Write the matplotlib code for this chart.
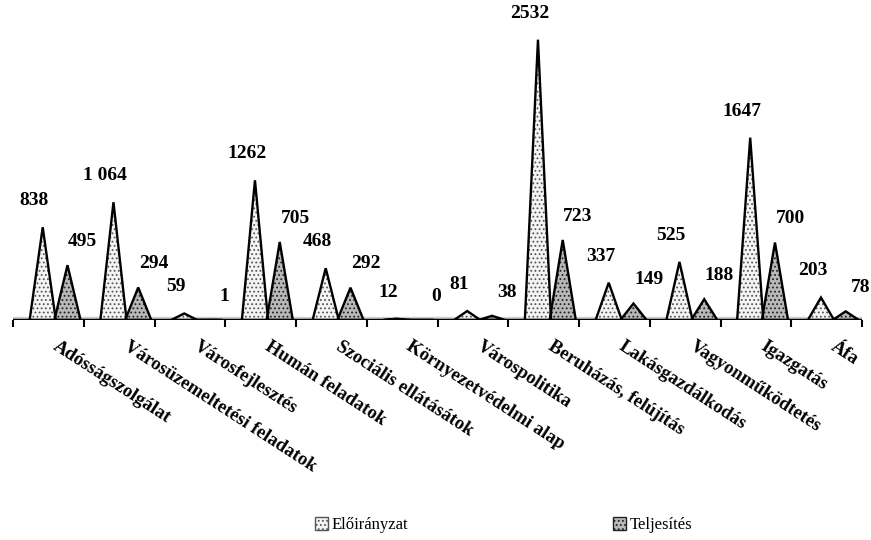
import matplotlib
matplotlib.use("Agg")
import matplotlib.pyplot as plt
from matplotlib.patches import Patch

# ── Data ──────────────────────────────────────────────────────────────────────
categories = [
    "Adósságszolgálat", "Városüzemeltetési feladatok", "Városfejlesztés",
    "Humán feladatok", "Szociális ellátásátok", "Környezetvédelmi alap",
    "Várospolitika", "Beruházás, felújítás", "Lakásgazdálkodás",
    "Vagyonműködtetés", "Igazgatás", "Áfa",
]
eloiranyzat = [838, 1064, 59, 1262, 468, 12, 81, 2532, 337, 525, 1647, 203]
teljesites = [495, 294, 1, 705, 292, 0, 38, 723, 149, 188, 700, 78]
eloiranyzat_text = ["838", "1 064", "59", "1262", "468", "12", "81",
                    "2532", "337", "525", "1647", "203"]
teljesites_text = [str(v) for v in teljesites]

# ── Style ─────────────────────────────────────────────────────────────────────
SERIF = ["Liberation Serif", "DejaVu Serif"]
plt.rcParams.update({
    "font.family": SERIF,
    "hatch.linewidth": 0.8,
})

OFF_E, OFF_T = -0.08, 0.27     # cone centre offsets within a category
HALF_W = 0.185                 # cone half width (category units)


def draw_cone(ax, xc, h, face, hatch, hatch_col):
    xs = [xc - HALF_W, xc, xc + HALF_W]
    ys = [0, h, 0]
    ax.fill(xs, ys, facecolor=face, edgecolor=hatch_col, hatch=hatch,
            linewidth=0, zorder=3)
    ax.fill(xs, ys, facecolor="none", edgecolor="black", linewidth=1.7,
            zorder=4)


fig = plt.figure(figsize=(8.71, 5.40), dpi=100)
ax = fig.add_axes([13 / 871, 220 / 540, 849 / 871, 310 / 540])

n = len(categories)
for i in range(n):
    draw_cone(ax, i + OFF_E, eloiranyzat[i], "#f4f4f4", "....", "#555555")
    draw_cone(ax, i + OFF_T, teljesites[i], "#b8b8b8", "....", "#222222")
    ax.annotate(eloiranyzat_text[i], (i + OFF_E, eloiranyzat[i]),
                xytext=(-6, 13), textcoords="offset points",
                ha="center", va="bottom", fontsize=14, fontweight="bold")
    ax.annotate(teljesites_text[i], (i + OFF_T, teljesites[i]),
                xytext=(11, 11), textcoords="offset points",
                ha="center", va="bottom", fontsize=14, fontweight="bold")

# floor strip and base line
ax.axhspan(0, 30, color="#cfcfcf", zorder=1)
ax.axhline(0, color="black", linewidth=2.5, zorder=5)

ax.set_xlim(-0.5, n - 0.5)
ax.set_ylim(0, 2800)
for s in ["top", "right", "left", "bottom"]:
    ax.spines[s].set_visible(False)
ax.set_yticks([])

# boundary ticks (major) and category labels (minor)
ax.set_xticks([i - 0.5 for i in range(n + 1)])
ax.set_xticklabels([])
ax.tick_params(axis="x", which="major", direction="out", length=5,
               width=1.5, color="black")
ax.set_xticks([i + 0.15 for i in range(n)], minor=True)
ax.set_xticklabels(categories, minor=True, rotation=-33, ha="left",
                   va="top", rotation_mode="anchor", fontsize=13.5,
                   fontweight="bold")
ax.tick_params(axis="x", which="minor", length=0, pad=13)

handles = [
    Patch(facecolor="#f4f4f4", edgecolor="#555555", hatch="...."),
    Patch(facecolor="#b8b8b8", edgecolor="#222222", hatch="...."),
]
fig.legend(handles, ["Előirányzat", "Teljesítés"], loc="center",
           bbox_to_anchor=(0.578, 0.028), ncol=2, frameon=False,
           fontsize=12, handlelength=0.8, handleheight=0.8,
           handletextpad=0.2, columnspacing=12.3)

fig.savefig("out.png", dpi=100)
